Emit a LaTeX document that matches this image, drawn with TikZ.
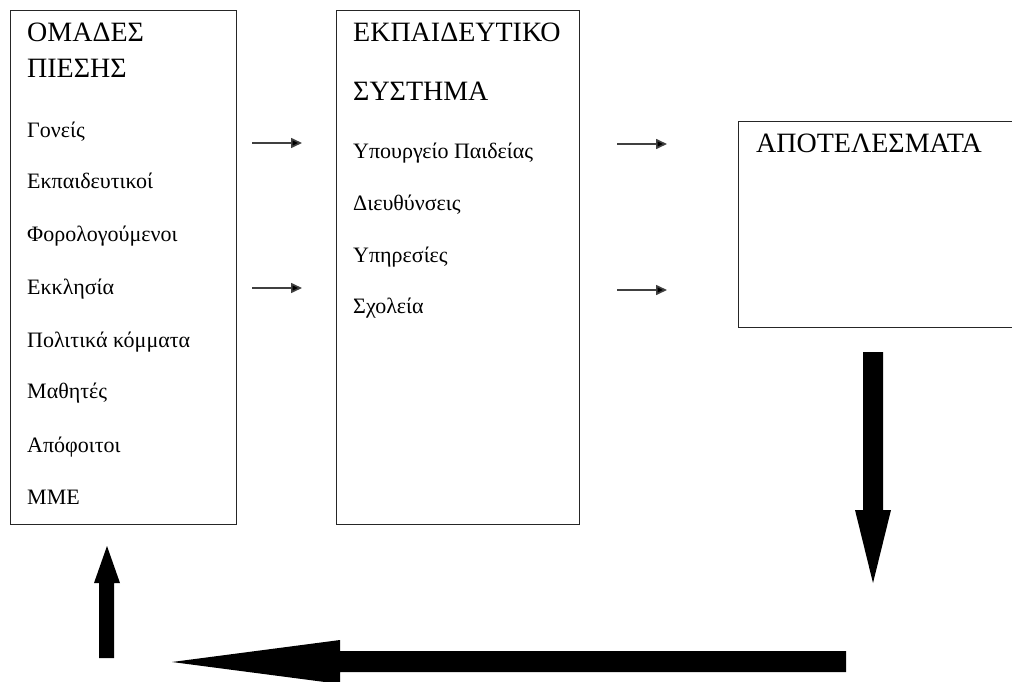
\documentclass[tikz,border=0pt]{standalone}
\usepackage{fontspec}
\setmainfont{Liberation Serif}
\usetikzlibrary{arrows.meta}
\tikzset{
  box/.style={draw=black!85, line width=1.4pt, anchor=north west, inner sep=0pt},
  title/.style={anchor=base west, inner sep=0pt, font=\fontsize{28}{32}\selectfont},
  item/.style={anchor=base west, inner sep=0pt, font=\fontsize{22}{26}\selectfont},
  thin arrow/.style={draw=black!75, line width=1.6pt, -{Triangle[length=11pt,width=10pt,fill=black]}},
  bigarrow/.style={fill=black, draw=none}
}
\begin{document}
\begin{tikzpicture}[x=1pt,y=-1pt]
\useasboundingbox (0,0) rectangle (1012,682);
% boxes
\node[box, minimum width=226pt, minimum height=514pt] (groups) at (10,10) {};
\node[box, minimum width=243pt, minimum height=514pt] (system) at (336,10) {};
\node[box, minimum width=290pt, minimum height=206pt] (results) at (738,121) {};
% texts box 1
\node[title] (g1) at (27,42) {ΟΜΑΔΕΣ};
\node[title] (g2) at (27,78) {ΠΙΕΣΗΣ};
\node[item] (i1) at (27,138) {Γονείς};
\node[item] (i2) at (27,188) {Εκπαιδευτικοί};
\node[item] (i3) at (27,241) {Φορολογούμενοι};
\node[item] (i4) at (27,294) {Εκκλησία};
\node[item] (i5) at (27,347) {Πολιτικά κόμματα};
\node[item] (i6) at (27,398) {Μαθητές};
\node[item] (i7) at (27,452) {Απόφοιτοι};
\node[item] (i8) at (27,504) {ΜΜΕ};
% texts box 2
\node[title] (s1) at (353,42) {ΕΚΠΑΙΔΕΥΤΙΚΟ};
\node[title] (s2) at (353,101) {ΣΥΣΤΗΜΑ};
\node[item] (j1) at (353,158) {Υπουργείο Παιδείας};
\node[item] (j2) at (353,210) {Διευθύνσεις};
\node[item] (j3) at (353,262) {Υπηρεσίες};
\node[item] (j4) at (353,313) {Σχολεία};
% text box 3
\node[title] (r1) at (756,153) {ΑΠΟΤΕΛΕΣΜΑΤΑ};
% thin arrows
\coordinate (a1s) at (252,143); \coordinate (a1e) at (302,143);
\coordinate (a2s) at (252,288); \coordinate (a2e) at (302,288);
\coordinate (a3s) at (617,144); \coordinate (a3e) at (667,144);
\coordinate (a4s) at (617,290); \coordinate (a4e) at (667,290);
\draw[thin arrow] (a1s) -- (a1e);
\draw[thin arrow] (a2s) -- (a2e);
\draw[thin arrow] (a3s) -- (a3e);
\draw[thin arrow] (a4s) -- (a4e);
% big arrows
\fill[bigarrow] (863,352) -- (883,352) -- (883,510) -- (891,510) -- (873,583) -- (855,510) -- (863,510) -- cycle;
\fill[bigarrow] (846,651) -- (846,672) -- (340,672) -- (340,684) -- (172,662) -- (340,640) -- (340,651) -- cycle;
\fill[bigarrow] (99,658) -- (99,583) -- (94,583) -- (107,546) -- (120,583) -- (114,583) -- (114,658) -- cycle;
\end{tikzpicture}
\end{document}
